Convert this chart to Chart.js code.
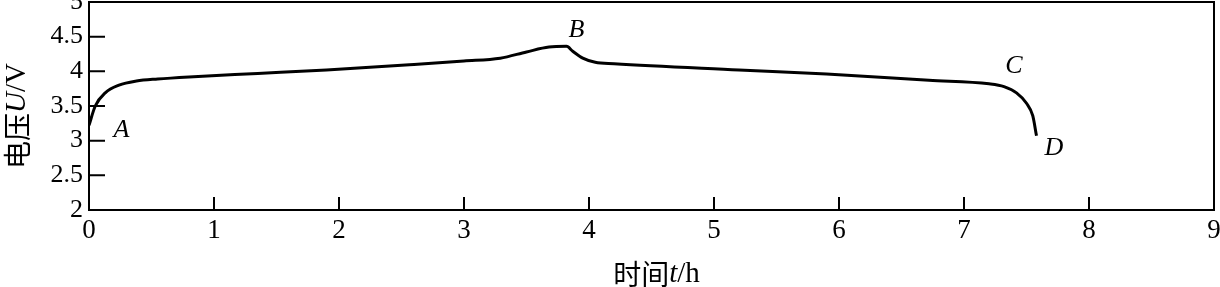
<!DOCTYPE html>
<html>
<head>
<meta charset="utf-8">
<script src="https://cdn.jsdelivr.net/npm/chart.js@4"></script>
<style>
  html, body { margin: 0; padding: 0; background: #fff; }
  #wrap { width: 1220px; height: 287px; }
</style>
</head>
<body>
<div id="wrap"><canvas id="chartVoltaje"></canvas></div>
<script>
// Datos
const timeH = [0, 0.05, 0.13, 0.24, 0.38, 0.55, 0.8, 1.35, 1.9, 2.6, 3.0, 3.29, 3.5, 3.68, 3.82, 3.87, 3.95, 4.05, 4.2, 5.2, 5.9, 6.72, 7.2, 7.32, 7.42, 7.50, 7.55, 7.58];
const voltage = [3.22, 3.50, 3.69, 3.80, 3.86, 3.89, 3.92, 3.97, 4.02, 4.10, 4.15, 4.19, 4.28, 4.35, 4.36, 4.29, 4.19, 4.13, 4.11, 4.02, 3.96, 3.87, 3.82, 3.78, 3.69, 3.54, 3.36, 3.07];

const xTicks = [0, 1, 2, 3, 4, 5, 6, 7, 8, 9];
const yTicks = [2, 2.5, 3, 3.5, 4, 4.5, 5];

// Letras de los puntos A, B, C, D
const pointNames = ['A', 'B', 'C', 'D'];
const pointX = [0.26, 3.90, 7.40, 7.72];
const pointY = [3.15, 4.60, 4.08, 2.89];

const SERIF = '"Liberation Serif", "Times New Roman", serif';
const CJK = '"Noto Sans CJK SC", sans-serif';

// Texto mixto (normal / cursiva)
function drawRich(ctx, parts, cx, cy) {
    let total = 0;
    parts.forEach(p => { ctx.font = p.font; total += ctx.measureText(p.text).width; });
    let x = cx - total / 2;
    ctx.textAlign = 'left';
    ctx.textBaseline = 'middle';
    parts.forEach(p => {
        ctx.font = p.font;
        ctx.fillText(p.text, x, cy);
        x += ctx.measureText(p.text).width;
    });
}

const framePlugin = {
    id: 'frame',
    afterDatasetsDraw(chart) {
        const ctx = chart.ctx;
        const a = chart.chartArea;
        const sx = chart.scales.x;
        const sy = chart.scales.y;
        ctx.save();
        ctx.strokeStyle = '#000';
        ctx.lineWidth = 2;

        // marco
        ctx.strokeRect(a.left, a.top, a.right - a.left, a.bottom - a.top);

        // marcas hacia dentro
        ctx.beginPath();
        xTicks.forEach(v => {
            const px = sx.getPixelForValue(v);
            ctx.moveTo(px, a.bottom);
            ctx.lineTo(px, a.bottom - 13);
        });
        yTicks.forEach(v => {
            const py = sy.getPixelForValue(v);
            ctx.moveTo(a.left, py);
            ctx.lineTo(a.left + 16, py);
        });
        ctx.stroke();

        // letras A-D
        ctx.fillStyle = '#000';
        ctx.font = 'italic 26px ' + SERIF;
        ctx.textAlign = 'center';
        ctx.textBaseline = 'middle';
        pointNames.forEach((n, i) => {
            ctx.fillText(n, sx.getPixelForValue(pointX[i]), sy.getPixelForValue(pointY[i]));
        });

        // título eje x
        drawRich(ctx, [
            { text: '时间', font: '28px ' + CJK },
            { text: 't', font: 'italic 29px ' + SERIF },
            { text: '/h', font: '29px ' + SERIF }
        ], (a.left + a.right) / 2 + 5, 274);

        // título eje y
        ctx.translate(17, (a.top + a.bottom) / 2 + 10);
        ctx.rotate(-Math.PI / 2);
        drawRich(ctx, [
            { text: '电压', font: '28px ' + CJK },
            { text: 'U', font: 'italic 29px ' + SERIF },
            { text: '/V', font: '29px ' + SERIF }
        ], 0, 0);
        ctx.restore();
    }
};

const ctxVoltaje = document.getElementById('chartVoltaje');
new Chart(ctxVoltaje, {
    type: 'line',
    data: {
        datasets: [{
            label: '电压U/V',
            data: timeH.map((t, i) => ({ x: t, y: voltage[i] })),
            borderColor: '#000',
            borderWidth: 3,
            pointRadius: 0,
            fill: false,
            cubicInterpolationMode: 'monotone'
        }]
    },
    options: {
        responsive: true,
        maintainAspectRatio: false,
        animation: false,
        layout: { padding: { top: 2, right: 6, left: 0, bottom: 0 } },
        plugins: {
            legend: { display: false },
            tooltip: { enabled: false }
        },
        scales: {
            x: {
                type: 'linear',
                min: 0,
                max: 9,
                afterBuildTicks: scale => { scale.ticks = xTicks.map(v => ({ value: v })); },
                afterFit: scale => { scale.height = 77; scale.paddingLeft = 0; scale.paddingRight = 0; },
                ticks: {
                    color: '#000',
                    padding: 5,
                    maxRotation: 0,
                    font: { family: SERIF, size: 27 }
                },
                grid: { display: false, drawTicks: false },
                border: { display: false }
            },
            y: {
                min: 2,
                max: 5,
                afterBuildTicks: scale => { scale.ticks = yTicks.map(v => ({ value: v })); },
                afterFit: scale => { scale.width = 89; scale.paddingTop = 0; scale.paddingBottom = 0; },
                ticks: {
                    color: '#000',
                    padding: 6,
                    font: { family: SERIF, size: 26 },
                    callback: v => String(v)
                },
                grid: { display: false, drawTicks: false },
                border: { display: false }
            }
        }
    },
    plugins: [framePlugin]
});
</script>
</body>
</html>
